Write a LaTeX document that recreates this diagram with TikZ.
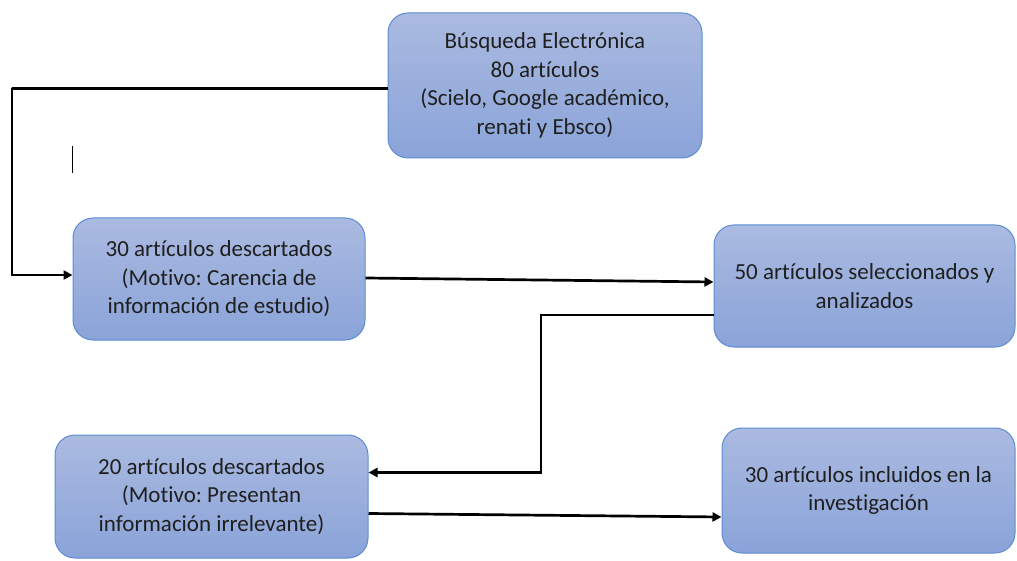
\documentclass[tikz,border=0pt]{standalone}
\usepackage{fontspec}
\setmainfont{Carlito}[Ligatures=CommonOff]
\usetikzlibrary{arrows.meta}
\definecolor{boxTop}{rgb}{0.67,0.73,0.88}
\definecolor{boxBot}{rgb}{0.54,0.64,0.85}
\definecolor{boxLine}{rgb}{0.36,0.55,0.82}
\definecolor{boxText}{rgb}{0.12,0.12,0.12}
\frenchspacing

\begin{document}
\begin{tikzpicture}[x=1pt,y=-1pt,
    stage/.style={draw=boxLine, line width=1pt, rounded corners=20pt,
        top color=boxTop, bottom color=boxBot, align=center, text=boxText,
        font=\fontsize{23}{28.5}\selectfont, inner sep=0pt},
    flow/.style={line width=2.7pt, -{Triangle[length=9pt,width=9pt]}}]
    \useasboundingbox (0,0) rectangle (1017,561);

    % draw boxes
    \node[stage, minimum width=314pt, minimum height=145pt] (search) at (545,85.5)
        {Búsqueda Electrónica\\80 artículos\\(Scielo, Google académico,\\renati y Ebsco)};
    \node[stage, minimum width=292pt, minimum height=122pt] (discard1) at (219,279)
        {30 artículos descartados\\(Motivo: Carencia de\\información de estudio)};
    \node[stage, minimum width=301pt, minimum height=122pt] (select) at (864.5,286)
        {50 artículos seleccionados y\\analizados};
    \node[stage, minimum width=313pt, minimum height=123pt] (discard2) at (211.5,496.5)
        {20 artículos descartados\\(Motivo: Presentan\\información irrelevante)};
    \node[stage, minimum width=293pt, minimum height=125pt] (include) at (868.5,490.5)
        {30 artículos incluidos en la\\investigación};

    % draw bends
    \coordinate (bend1) at (12,88);
    \coordinate (bend2) at (541,400);

    % draw arrows
    \draw[flow] ([yshift=-3pt]search.west) -| (bend1) |- ([yshift=4pt]discard1.west);
    \draw[flow] ([yshift=1pt]discard1.east) -- ([yshift=4pt]select.west);
    \draw[flow] ([yshift=-29pt]select.west) -| (bend2) |- ([yshift=24pt]discard2.east);
    \draw[flow] ([yshift=-17pt]discard2.east) -- ([yshift=-26.5pt]include.west);

    % cursor mark
    \draw[line width=1pt] (72,146) -- (72,173);
\end{tikzpicture}
\end{document}
